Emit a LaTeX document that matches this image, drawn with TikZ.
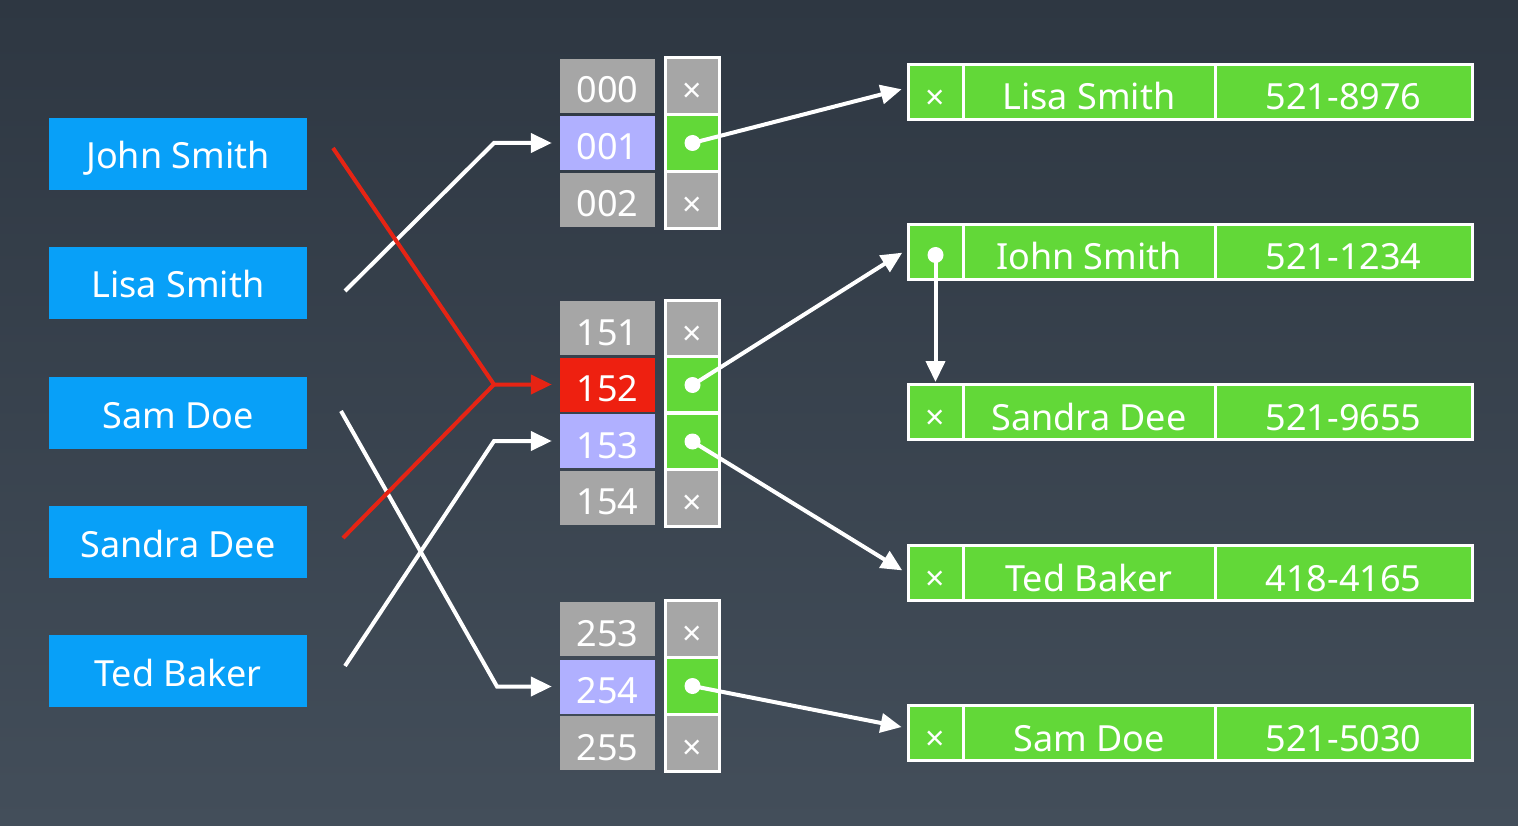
\documentclass[tikz,border=0pt]{standalone}
\usepackage{fontspec}
\setmainfont{Noto Sans}
\usetikzlibrary{arrows.meta}
\definecolor{bgtop}{RGB}{46,55,66}
\definecolor{bgbot}{RGB}{67,78,90}
\definecolor{keyblue}{RGB}{8,160,248}
\definecolor{idxgray}{RGB}{166,166,166}
\definecolor{idxlav}{RGB}{176,176,255}
\definecolor{idxred}{RGB}{238,32,16}
\definecolor{recgreen}{RGB}{98,216,56}
\definecolor{linered}{RGB}{230,36,20}
\tikzset{
  bigtext/.style={font=\fontsize{36}{40}\selectfont},
  keybox/.style={fill=keyblue, minimum width=258pt, minimum height=72pt, inner sep=0pt, text=white, bigtext, text height=34pt, text depth=4pt},
  idxcell/.style={minimum width=95pt, minimum height=54pt, inner sep=0pt, text=white, bigtext, text height=36pt, text depth=2pt},
  ptrcell/.style={draw=white, line width=3.5pt, minimum width=54pt, minimum height=57pt, inner sep=0pt},
  reccell/.style={draw=white, line width=3pt, fill=recgreen, minimum height=55pt, inner sep=0pt, text=white, bigtext, text height=40pt, text depth=4pt},
  crossmark/.style={text=white, font=\bfseries\fontsize{34}{40}\selectfont, inner sep=0pt},
  conn/.style={draw=white, line width=4pt, -{Triangle[length=21pt,width=19pt]}},
  redconn/.style={draw=linered, line width=4pt, -{Triangle[length=21pt,width=19pt]}},
  redline/.style={draw=linered, line width=4pt},
  dotmark/.style={fill=white}
}
\begin{document}
\begin{tikzpicture}[x=1pt,y=-1pt]
\shade[top color=bgtop, bottom color=bgbot] (0,0) rectangle (1518,826);
\useasboundingbox (0,0) rectangle (1518,826);

% keys
\node[keybox] (k1) at (178,154) {John Smith};
\node[keybox] (k2) at (178,283) {Lisa Smith};
\node[keybox] (k3) at (178,413) {Sam Doe};
\node[keybox] (k4) at (178,542) {Sandra Dee};
\node[keybox] (k5) at (178,671) {Ted Baker};

% index cells
\node[idxcell, fill=idxgray] (i000) at (607.5,86) {000};
\node[idxcell, fill=idxlav]  (i001) at (607.5,143) {001};
\node[idxcell, fill=idxgray] (i002) at (607.5,200) {002};
\node[idxcell, fill=idxgray] (i151) at (607.5,328) {151};
\node[idxcell, fill=idxred]  (i152) at (607.5,384.5) {152};
\node[idxcell, fill=idxlav]  (i153) at (607.5,441) {153};
\node[idxcell, fill=idxgray] (i154) at (607.5,497.5) {154};
\node[idxcell, fill=idxgray] (i253) at (607.5,629) {253};
\node[idxcell, fill=idxlav]  (i254) at (607.5,686.5) {254};
\node[idxcell, fill=idxgray] (i255) at (607.5,743) {255};

% pointer cells
\node[ptrcell, fill=idxgray]  (p000) at (692.5,86) {};
\node[ptrcell, fill=recgreen] (p001) at (692.5,143) {};
\node[ptrcell, fill=idxgray]  (p002) at (692.5,200) {};
\node[ptrcell, fill=idxgray]  (p151) at (692.5,329) {};
\node[ptrcell, fill=recgreen] (p152) at (692.5,385) {};
\node[ptrcell, fill=recgreen] (p153) at (692.5,441.5) {};
\node[ptrcell, fill=idxgray]  (p154) at (692.5,498) {};
\node[ptrcell, fill=idxgray]  (p253) at (692.5,629) {};
\node[ptrcell, fill=recgreen] (p254) at (692.5,686) {};
\node[ptrcell, fill=idxgray]  (p255) at (692.5,743) {};
\foreach \c in {p000,p002,p151,p154,p253,p255}
  \node[crossmark] at ([yshift=-7pt]\c.center) {×};

% records
\foreach \r/\y/\nm/\ph in {r1/92/Lisa Smith/521-8976, r2/252/Iohn Smith/521-1234, r3/412/Sandra Dee/521-9655, r4/573/Ted Baker/418-4165, r5/733/Sam Doe/521-5030}{
  \node[reccell, minimum width=55pt] (\r x) at (935.5,\y) {};
  \node[reccell, minimum width=252pt] (\r n) at (1089,\y) {\nm};
  \node[reccell, minimum width=257pt] (\r p) at (1343.5,\y) {\ph};
}
\foreach \r in {r1,r3,r4,r5}
  \node[crossmark] at ([yshift=-8pt]\r x.center) {×};

% bend and start coordinates
\coordinate (s1) at (333,148);
\coordinate (s2) at (345,291);
\coordinate (s3) at (341,411);
\coordinate (s4) at (343,538);
\coordinate (s5) at (345,666);
\coordinate (b001) at (494,143);
\coordinate (b152) at (494,384.5);
\coordinate (b153) at (494,441);
\coordinate (b254) at (497,686.5);

% key -> index connectors
\draw[conn, shorten >=8pt] (s2) -- (b001) -- (i001.west);
\draw[conn, shorten >=8pt] (s3) -- (b254) -- (i254.west);
\draw[conn, shorten >=8pt] (s5) -- (b153) -- (i153.west);
\draw[redline] (s4) -- (b152);
\draw[redconn, shorten >=8pt] (s1) -- (b152) -- (i152.west);

% pointer -> record connectors
\draw[conn, shorten >=5pt] (p001.center) -- ([yshift=4pt]r1x.west);
\draw[conn, shorten >=5pt] (p152.center) -- ([yshift=2pt]r2x.west);
\draw[conn, shorten >=5pt] (p153.center) -- (r4x.west);
\draw[conn, shorten >=5pt] (p254.center) -- ([yshift=5pt]r5x.west);
\draw[conn, shorten >=1pt] ([yshift=-3pt]r2x.center) -- (r3x.north);

% dots
\foreach \c in {p001,p152,p153,p254}
  \fill[dotmark] (\c.center) circle (8pt);
\fill[dotmark] ([yshift=-3pt]r2x.center) circle (8pt);
\end{tikzpicture}
\end{document}
